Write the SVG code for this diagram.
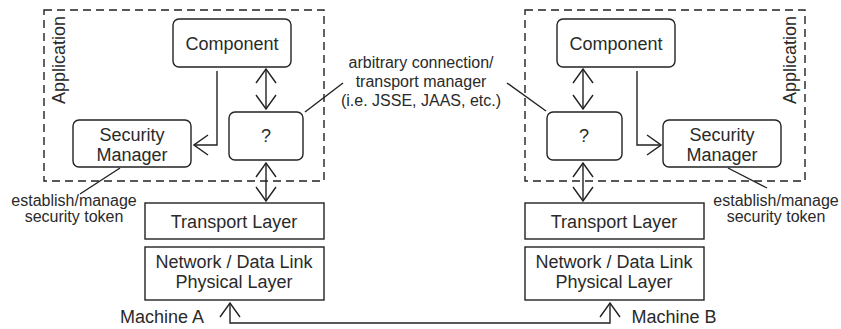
<svg xmlns="http://www.w3.org/2000/svg" width="841" height="329" viewBox="0 0 841 329">
  <style>
    .box { fill: #fff; stroke: #222; stroke-width: 1.4; }
    .app { fill: none; stroke: #222; stroke-width: 1.4; stroke-dasharray: 8 5; }
    .ln { fill: none; stroke: #222; stroke-width: 1.4; }
    .t18 { font-family: "Liberation Sans", Arial, sans-serif; font-size: 18px; fill: #2a2a2a; text-anchor: middle; }
    .t16 { font-family: "Liberation Sans", Arial, sans-serif; font-size: 16px; fill: #2a2a2a; text-anchor: middle; }
  </style>
  <defs>
    <marker id="open" viewBox="0 0 16 22" refX="15" refY="11" markerWidth="16" markerHeight="22" markerUnits="userSpaceOnUse" orient="auto-start-reverse">
      <path d="M1,1 L15,11 L1,21" fill="none" stroke="#222" stroke-width="1.4"/>
    </marker>
  </defs>
  <rect width="841" height="329" fill="#fff"/>

  <!-- Machine A -->
  <g id="appA">
    <rect class="app" x="44" y="10" width="280" height="171"/>
    <text class="t18" transform="translate(65,60) rotate(-90)">Application</text>
  </g>
  <g id="componentA">
    <rect class="box" x="173" y="19" width="118" height="48" rx="6"/>
    <text class="t18" x="232" y="50">Component</text>
  </g>
  <g id="unknownA">
    <rect class="box" x="229" y="112" width="74" height="48" rx="6"/>
    <text class="t18" x="266" y="142">?</text>
  </g>
  <g id="secmgrA">
    <rect class="box" x="73" y="120" width="118" height="47" rx="6"/>
    <text class="t18" x="132" y="141">Security</text>
    <text class="t18" x="132" y="161">Manager</text>
  </g>
  <g id="transportA">
    <rect class="box" x="145" y="203" width="179" height="36"/>
    <text class="t18" x="234" y="228">Transport Layer</text>
  </g>
  <g id="networkA">
    <rect class="box" x="145" y="247" width="179" height="53"/>
    <text class="t18" x="234" y="268">Network / Data Link</text>
    <text class="t18" x="234" y="288">Physical Layer</text>
  </g>
  <g id="tokenA">
    <text class="t16" x="74" y="206">establish/manage</text>
    <text class="t16" x="74" y="222">security token</text>
  </g>
  <g id="machineA">
    <text class="t18" x="162" y="323">Machine A</text>
  </g>

  <!-- Machine B -->
  <g id="appB">
    <rect class="app" x="525" y="10" width="280" height="171"/>
    <text class="t18" transform="translate(796,60) rotate(-90)">Application</text>
  </g>
  <g id="componentB">
    <rect class="box" x="557" y="19" width="118" height="48" rx="6"/>
    <text class="t18" x="616" y="50">Component</text>
  </g>
  <g id="unknownB">
    <rect class="box" x="547" y="112" width="75" height="48" rx="6"/>
    <text class="t18" x="584" y="142">?</text>
  </g>
  <g id="secmgrB">
    <rect class="box" x="663" y="120" width="118" height="47" rx="6"/>
    <text class="t18" x="722" y="141">Security</text>
    <text class="t18" x="722" y="161">Manager</text>
  </g>
  <g id="transportB">
    <rect class="box" x="525" y="203" width="179" height="36"/>
    <text class="t18" x="614" y="228">Transport Layer</text>
  </g>
  <g id="networkB">
    <rect class="box" x="525" y="247" width="179" height="53"/>
    <text class="t18" x="614" y="268">Network / Data Link</text>
    <text class="t18" x="614" y="288">Physical Layer</text>
  </g>
  <g id="tokenB">
    <text class="t16" x="776" y="206">establish/manage</text>
    <text class="t16" x="776" y="222">security token</text>
  </g>
  <g id="machineB">
    <text class="t18" x="674" y="323">Machine B</text>
  </g>

  <!-- shared note -->
  <g id="note">
    <text class="t16" x="421" y="68">arbitrary connection/</text>
    <text class="t16" x="421" y="87">transport manager</text>
    <text class="t16" x="421" y="106">(i.e. JSSE, JAAS, etc.)</text>
  </g>

  <g id="connectors">
    <!-- component <-> ? -->
    <line class="ln" x1="266" y1="69" x2="266" y2="109" marker-start="url(#open)" marker-end="url(#open)"/>
    <line class="ln" x1="583" y1="69" x2="583" y2="109" marker-start="url(#open)" marker-end="url(#open)"/>
    <!-- ? <-> transport -->
    <line class="ln" x1="266" y1="163" x2="266" y2="201" marker-start="url(#open)" marker-end="url(#open)"/>
    <line class="ln" x1="583" y1="163" x2="583" y2="201" marker-start="url(#open)" marker-end="url(#open)"/>
    <!-- component -> security manager -->
    <polyline class="ln" points="217,71 217,145 194,145" marker-end="url(#open)"/>
    <polyline class="ln" points="637,71 637,145 661,145" marker-end="url(#open)"/>
    <!-- machine link -->
    <polyline class="ln" points="230,303 230,323 610,323 610,303" marker-start="url(#open)" marker-end="url(#open)"/>
    <!-- note leaders -->
    <line class="ln" x1="305" y1="112" x2="343" y2="83"/>
    <line class="ln" x1="507" y1="83" x2="546" y2="111"/>
    <line class="ln" x1="120" y1="168" x2="80" y2="194"/>
    <line class="ln" x1="728" y1="168" x2="767" y2="188"/>
  </g>
</svg>
